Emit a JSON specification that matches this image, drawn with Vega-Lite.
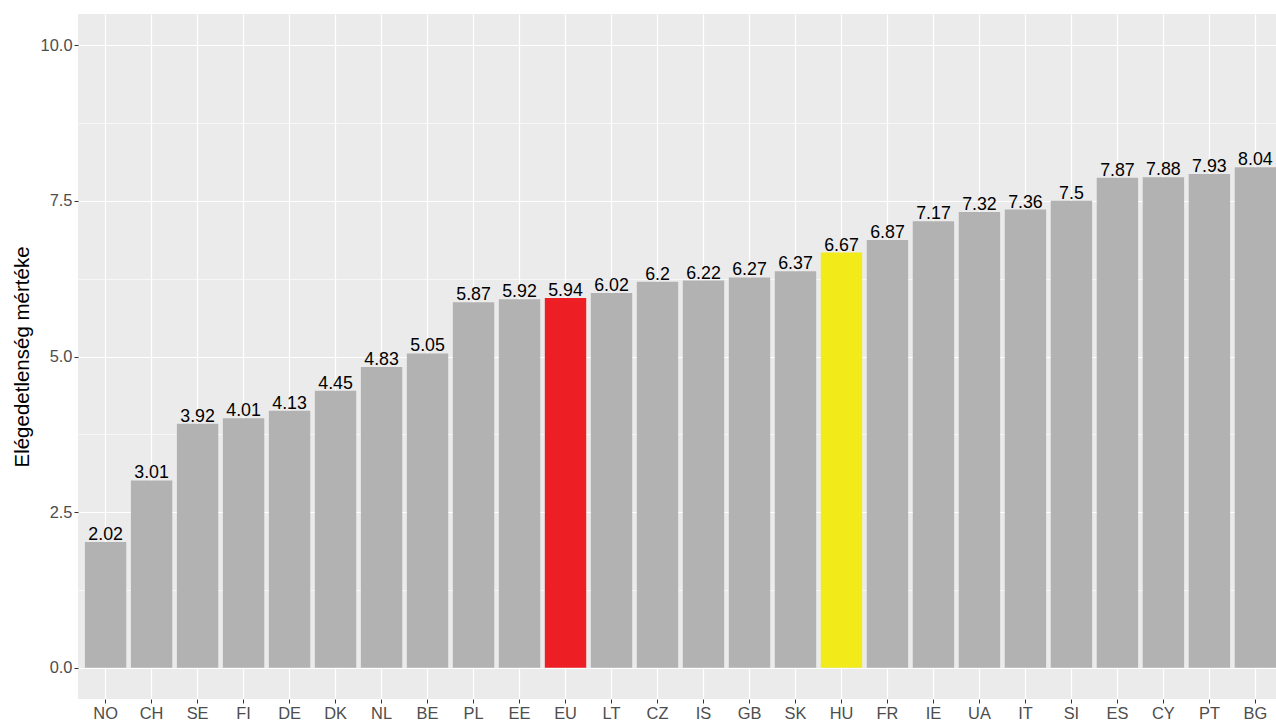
{
  "$schema": "https://vega.github.io/schema/vega-lite/v6.json",
  "autosize": {"type": "none"},
  "padding": {"left": 78, "top": 14, "right": 0, "bottom": 21},
  "width": 1205,
  "height": 685,
  "background": "white",
  "config": {
    "font": "Liberation Sans",
    "view": {"fill": "#EBEBEB", "stroke": null}
  },
  "data": {
    "values": [
      {"country": "NO", "value": 2.02, "group": "other"},
      {"country": "CH", "value": 3.01, "group": "other"},
      {"country": "SE", "value": 3.92, "group": "other"},
      {"country": "FI", "value": 4.01, "group": "other"},
      {"country": "DE", "value": 4.13, "group": "other"},
      {"country": "DK", "value": 4.45, "group": "other"},
      {"country": "NL", "value": 4.83, "group": "other"},
      {"country": "BE", "value": 5.05, "group": "other"},
      {"country": "PL", "value": 5.87, "group": "other"},
      {"country": "EE", "value": 5.92, "group": "other"},
      {"country": "EU", "value": 5.94, "group": "EU"},
      {"country": "LT", "value": 6.02, "group": "other"},
      {"country": "CZ", "value": 6.2, "group": "other"},
      {"country": "IS", "value": 6.22, "group": "other"},
      {"country": "GB", "value": 6.27, "group": "other"},
      {"country": "SK", "value": 6.37, "group": "other"},
      {"country": "HU", "value": 6.67, "group": "HU"},
      {"country": "FR", "value": 6.87, "group": "other"},
      {"country": "IE", "value": 7.17, "group": "other"},
      {"country": "UA", "value": 7.32, "group": "other"},
      {"country": "IT", "value": 7.36, "group": "other"},
      {"country": "SI", "value": 7.5, "group": "other"},
      {"country": "ES", "value": 7.87, "group": "other"},
      {"country": "CY", "value": 7.88, "group": "other"},
      {"country": "PT", "value": 7.93, "group": "other"},
      {"country": "BG", "value": 8.04, "group": "other"}
    ]
  },
  "encoding": {
    "x": {
      "field": "country",
      "type": "nominal",
      "sort": null,
      "scale": {"paddingInner": 0.1, "paddingOuter": 0.15},
      "axis": {
        "title": null,
        "labelAngle": 0,
        "labelFont": "Liberation Sans",
        "labelFontSize": 16.4,
        "labelColor": "#4D4D4D",
        "labelPadding": 2,
        "tickSize": 4,
        "tickColor": "#333333",
        "domain": false,
        "grid": true,
        "gridColor": "white",
        "gridWidth": 1.2,
        "bandPosition": 0.5
      }
    },
    "y": {
      "field": "value",
      "type": "quantitative",
      "scale": {"domain": [-0.5, 10.5], "nice": false, "zero": false},
      "axis": {
        "title": "Elégedetlenség mértéke",
        "titleFont": "Liberation Sans",
        "titleFontSize": 20.5,
        "titleFontWeight": "normal",
        "titleColor": "black",
        "titlePadding": 8,
        "values": [0, 1.25, 2.5, 3.75, 5, 6.25, 7.5, 8.75, 10],
        "labelExpr": "datum.value % 2.5 === 0 ? format(datum.value, '.1f') : ''",
        "labelFont": "Liberation Sans",
        "labelFontSize": 16.4,
        "labelColor": "#4D4D4D",
        "labelPadding": 2,
        "tickSize": 4,
        "tickColor": "#333333",
        "tickOpacity": {"condition": {"test": "datum.value % 2.5 === 0", "value": 1}, "value": 0},
        "domain": false,
        "grid": true,
        "gridColor": "white",
        "gridWidth": {"condition": {"test": "datum.value % 2.5 === 0", "value": 1.2}, "value": 0.6}
      }
    }
  },
  "layer": [
    {
      "mark": {"type": "bar"},
      "encoding": {
        "color": {
          "field": "group",
          "type": "nominal",
          "scale": {"domain": ["other", "EU", "HU"], "range": ["#B2B2B2", "#EE1F24", "#F2EB19"]},
          "legend": null
        }
      }
    },
    {
      "mark": {"type": "text", "baseline": "alphabetic", "dy": -2, "fontSize": 17.8, "color": "black", "font": "Liberation Sans"},
      "encoding": {
        "text": {"field": "value", "type": "quantitative"}
      }
    }
  ]
}
